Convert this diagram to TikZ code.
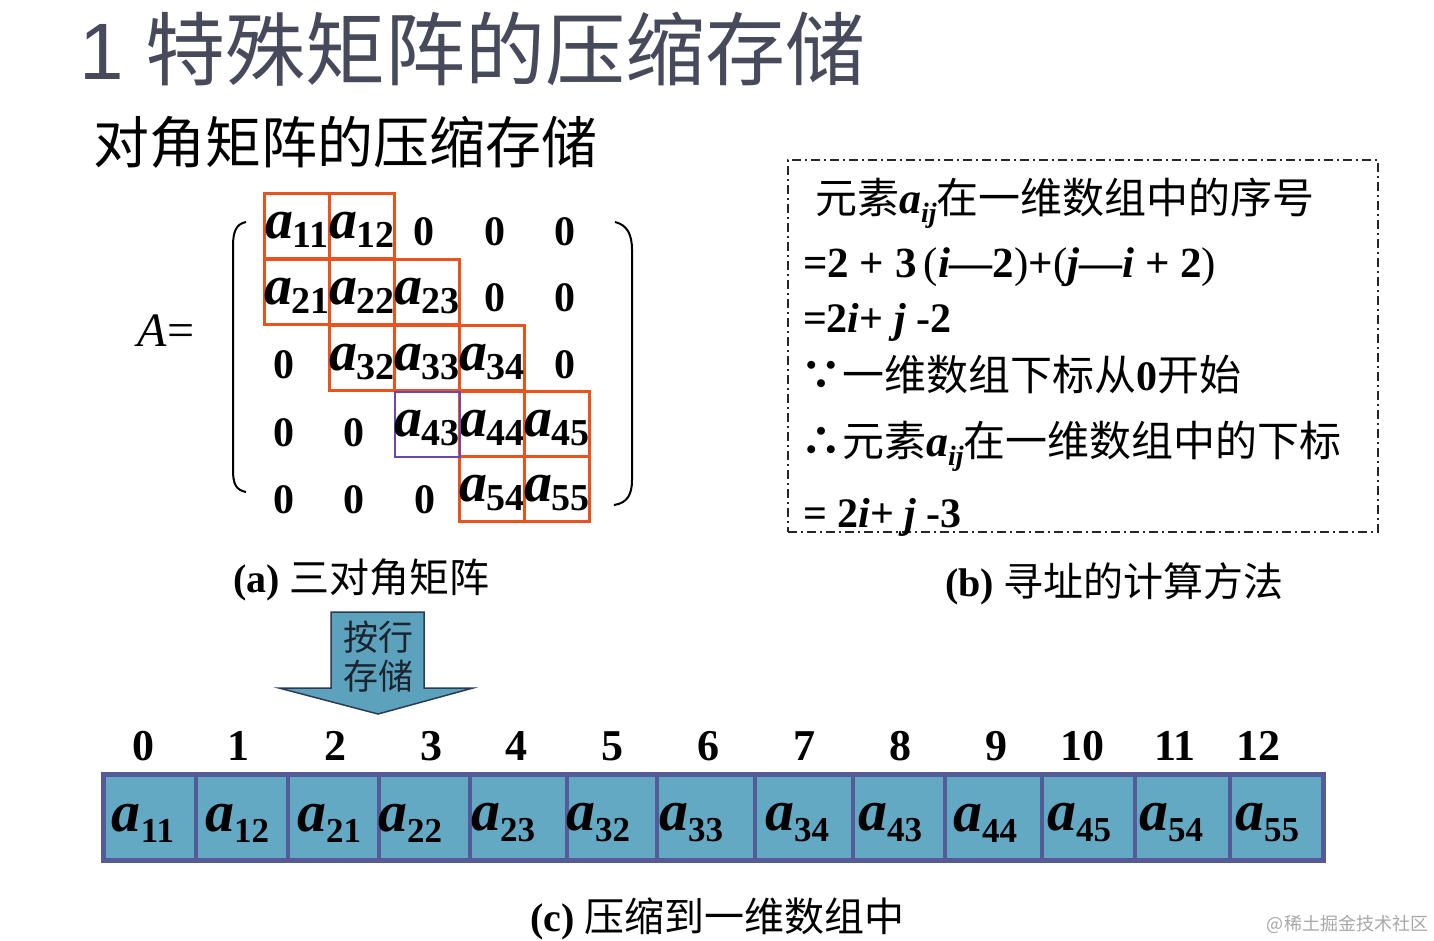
\documentclass[tikz,border=0pt]{standalone}
\usepackage{fontspec}
\setmainfont{Liberation Serif}
\newfontfamily\cjk{Noto Sans CJK SC}
\newfontfamily\lsans{Liberation Sans}
\definecolor{titlegray}{HTML}{474A5A}
\definecolor{boxorange}{HTML}{E8531E}
\definecolor{boxpurple}{HTML}{6A46B0}
\definecolor{cellfill}{HTML}{64A9C3}
\definecolor{cellborder}{HTML}{555B96}
\definecolor{arrowfill}{HTML}{5DA2BC}
\definecolor{arrowline}{HTML}{2B3A55}
\definecolor{arrowtext}{HTML}{1A2530}
\definecolor{wmgray}{HTML}{A8A8A8}
% element a_{xy}: matrix size and array size
\newcommand\mel[1]{{\rmfamily\fontsize{56}{56}\selectfont\bfseries\itshape a}\kern-1pt\raisebox{-9pt}{\rmfamily\fontsize{38}{38}\selectfont\bfseries #1}}
\newcommand\arel[1]{{\rmfamily\fontsize{58}{58}\selectfont\bfseries\itshape a}\raisebox{-11pt}{\rmfamily\fontsize{35}{35}\selectfont\bfseries #1}}
\newcommand\aij{{\rmfamily\fontsize{44}{44}\selectfont\bfseries\itshape a}\raisebox{-9pt}{\rmfamily\fontsize{28}{28}\selectfont\bfseries\itshape ij}}
\begin{document}
\begin{tikzpicture}[x=1pt,y=-1pt,
  every node/.style={inner sep=0pt,outer sep=0pt},
  mbox/.style={draw=boxorange,line width=3.5pt,minimum width=65pt,minimum height=65pt},
  pbox/.style={draw=boxpurple,line width=2pt,minimum width=65pt,minimum height=65pt},
  zero/.style={font=\fontsize{42}{42}\selectfont\bfseries},
  cell/.style={draw=cellborder,fill=cellfill,line width=4pt,minimum height=86pt},
  idx/.style={anchor=base,font=\fontsize{44}{44}\selectfont\bfseries},
  btext/.style={anchor=base west,font=\fontsize{42}{42}\selectfont},
  captext/.style={anchor=base west,font=\fontsize{40}{40}\selectfont}
]
\useasboundingbox[fill=white] (0,0) rectangle (1434,940);

% titles
\node[anchor=base west,text=titlegray,font=\fontsize{80}{80}\selectfont] (title) at (79,79)
  {{\lsans 1}\hspace{22pt}\cjk 特殊矩阵的压缩存储};
\node[anchor=base west,font=\cjk\fontsize{56}{56}\selectfont] (sub) at (93,163) {对角矩阵的压缩存储};

% matrix
\node[anchor=base,font=\fontsize{48}{48}\selectfont\itshape] (Aeq) at (166,346) {A\upshape=};
\draw[line width=2pt] (246,222) .. controls (236,224) and (233,232) .. (233,246) -- (233,470) .. controls (233,484) and (236,490) .. (246,492);
\draw[line width=2pt] (615,222) .. controls (627,225) and (632,234) .. (632,250) -- (632,480) .. controls (632,495) and (627,503) .. (614,505);

\foreach \n/\x/\y in {11/297/226,12/362/226,21/297/292,22/362/292,23/427/292,32/362/358,33/427/358,34/492/358,44/492/424,45/557/424,54/492/489,55/557/489}{
  \node[mbox] (m\n) at (\x,\y) {};
  \node[yshift=-4pt] (tm\n) at (m\n) {\mel{\n}};
}
\node[pbox] (m43) at (427,424) {};
\node[yshift=-4pt] (tm43) at (m43) {\mel{43}};

\foreach \n/\x/\y in {13/424/232,14/495/232,15/565/232,24/495/298,25/565/298,31/284/365,35/565/365,41/284/433,42/354/433,51/284/500,52/354/500,53/425/500}{
  \node[zero] (z\n) at (\x,\y) {0};
}

% right dashed box
\node[draw=black!85,line width=1.5pt,dash pattern=on 9pt off 4pt on 2pt off 4pt,
      minimum width=590pt,minimum height=372pt] (calc) at (1083,346) {};
\node[btext] (l1) at (815,213) {\cjk 元素\aij 在一维数组中的序号};
\node[btext,font=\fontsize{43}{43}\selectfont] (l2) at (803,277) {\bfseries =2 + 3\,\mdseries(\bfseries\itshape i\upshape—2\mdseries)\bfseries+\mdseries(\bfseries\itshape j\upshape—\itshape i\upshape\ + 2\mdseries)};
\node[btext] (l3) at (803,332) {\bfseries =2\itshape i\upshape+ \itshape j\upshape\ -2};
\node[btext] (l4) at (800,390) {{\cjk\bfseries ∵}\cjk 一维数组下标从{\rmfamily\bfseries 0}开始};
\node[btext] (l5) at (800,456) {{\cjk\bfseries ∴}\cjk 元素\aij 在一维数组中的下标};
\node[btext] (l6) at (803,527) {\bfseries = 2\itshape i\upshape+ \itshape j\upshape\ -3};

% captions
\node[captext] (capa) at (233,592) {\bfseries (a) \mdseries\cjk 三对角矩阵};
\node[captext] (capb) at (945,596) {\bfseries (b) \mdseries\cjk 寻址的计算方法};
\node[captext] (capc) at (530,931) {\bfseries (c) \mdseries\cjk 压缩到一维数组中};

% block arrow
\draw[fill=arrowfill,draw=arrowline,line width=1.5pt,line join=miter]
  (331,612) -- (424,612) -- (424,688) -- (473,688) -- (378,714) -- (279,688) -- (331,688) -- cycle;
\node[text=arrowtext,font=\cjk\fontsize{35}{35}\selectfont] (arr1) at (378,637) {按行};
\node[text=arrowtext,font=\cjk\fontsize{35}{35}\selectfont] (arr2) at (378,676) {存储};

% array cells
\foreach \l/\r/\n in {103/196/0,196/288/1,288/379/2,379/470/3,470/567/4,567/657/5,657/755/6,755/853/7,853/945/8,945/1042/9,1042/1135/10,1135/1230/11,1230/1323/12}{
  \pgfmathsetmacro\w{\r-\l}
  \pgfmathsetmacro\c{(\r+\l)/2}
  \node[cell,minimum width=\w pt] (c\n) at (\c,817) {};
}
\draw[cellborder,line width=5pt] (c0.north west) rectangle (c12.south east);

\foreach \x/\s [count=\k from 0] in {143/11,237/12,329/21,410/22,503/23,598/32,691/33,797/34,890/43,985/44,1079/45,1171/54,1267/55}{
  \node (t\k) at (\x,823) {\arel{\s}};
}
\foreach \x/\s [count=\k from 0] in {143/0,238/1,335/2,431/3,516/4,612/5,708/6,804/7,900/8,996/9,1082/10,1175/11,1258/12}{
  \node[idx] (i\k) at (\x,760) {\s};
}

% watermark
\node[anchor=base east,text=wmgray,font=\cjk\fontsize{18}{18}\selectfont] (wm) at (1428,930) {@稀土掘金技术社区};
\end{tikzpicture}
\end{document}
